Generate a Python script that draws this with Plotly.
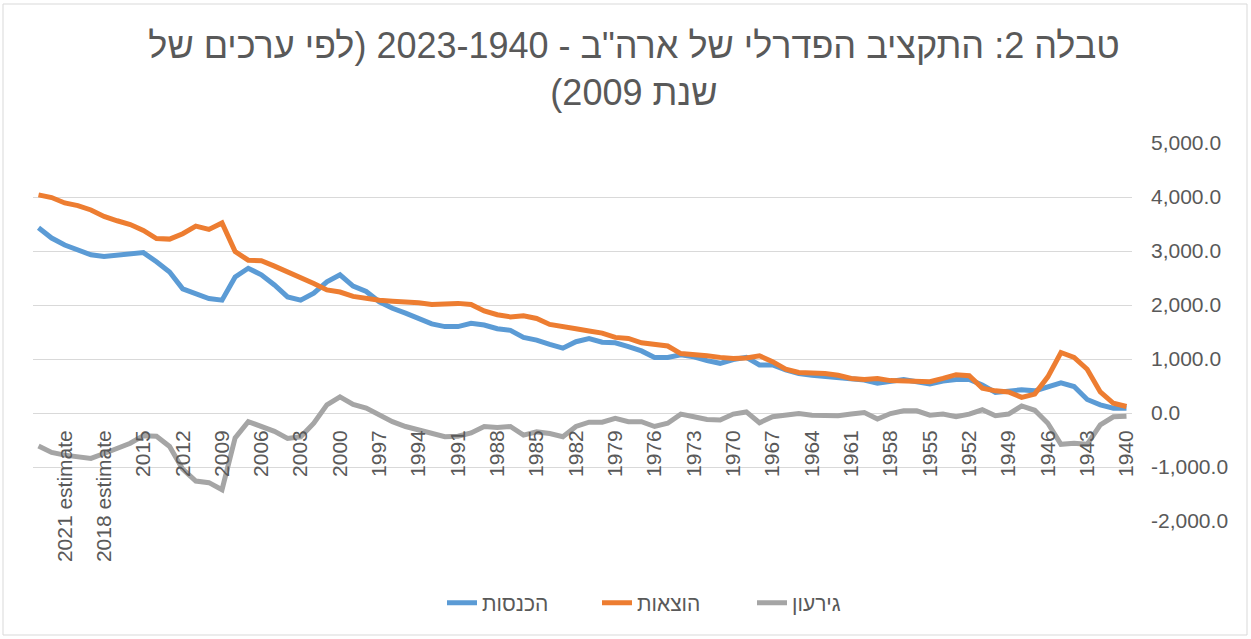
import plotly.graph_objects as go

# Categories in display order (left to right)
categories = [
    "2023 estimate", "2022 estimate", "2021 estimate", "2020 estimate", "2019 estimate", "2018 estimate",
    "2017", "2016", "2015", "2014", "2013", "2012", "2011", "2010", "2009", "2008", "2007", "2006",
    "2005", "2004", "2003", "2002", "2001", "2000", "1999", "1998", "1997", "1996", "1995", "1994",
    "1993", "1992", "1991", "1990", "1989", "1988", "1987", "1986", "1985", "1984", "1983", "1982",
    "1981", "1980", "1979", "1978", "1977", "1976", "1975", "1974", "1973", "1972", "1971", "1970",
    "1969", "1968", "1967", "1966", "1965", "1964", "1963", "1962", "1961", "1960", "1959", "1958",
    "1957", "1956", "1955", "1954", "1953", "1952", "1951", "1950", "1949", "1948", "1947", "1946",
    "1945", "1944", "1943", "1942", "1941", "1940",
]

receipts = [
    3430, 3240, 3110, 3010, 2930, 2900, 2930, 2960, 2970, 2800, 2610, 2300, 2200, 2120, 2090, 2520,
    2680, 2560, 2370, 2150, 2090, 2220, 2430, 2560, 2350, 2250, 2060, 1940, 1850, 1750, 1650, 1600,
    1600, 1660, 1630, 1560, 1530, 1400, 1350, 1270, 1200, 1320, 1380, 1310, 1300, 1230, 1150, 1030,
    1030, 1080, 1040, 970, 920, 990, 1030, 890, 890, 800, 730, 700, 680, 650, 620, 610, 550, 590,
    620, 580, 540, 590, 620, 620, 520, 380, 410, 430, 410, 480, 560, 490, 250, 150, 90, 90,
]

outlays = [
    4040, 3990, 3890, 3840, 3760, 3640, 3560, 3490, 3380, 3230, 3220, 3320, 3460, 3400, 3520, 2990,
    2830, 2820, 2720, 2620, 2520, 2400, 2280, 2240, 2160, 2120, 2090, 2070, 2060, 2040, 2010, 2030,
    2030, 2010, 1890, 1820, 1780, 1800, 1750, 1640, 1610, 1560, 1520, 1480, 1400, 1380, 1300, 1270,
    1240, 1100, 1090, 1060, 1030, 1010, 1020, 1060, 950, 810, 750, 750, 730, 700, 640, 620, 640, 600,
    590, 570, 580, 640, 710, 690, 460, 410, 390, 290, 350, 670, 1120, 1030, 810, 390, 180, 120,
]

deficit = [
    -610, -730, -780, -820, -840, -750, -660, -560, -420, -430, -620, -1040, -1260, -1290, -1420, -460,
    -160, -250, -340, -470, -440, -190, 150, 300, 160, 90, -40, -160, -250, -310, -390, -440,
    -430, -370, -250, -270, -250, -410, -350, -380, -440, -250, -170, -170, -100, -160, -160, -250,
    -190, -20, -70, -120, -130, -20, 20, -180, -70, -30, -10, -40, -40, -50, -20, 10, -110, -10,
    40, 40, -40, -20, -70, -20, 60, -50, -20, 130, 50, -190, -580, -560, -580, -220, -70, -60,
]

y_tick_values = [-2000, -1000, 0, 1000, 2000, 3000, 4000, 5000]
y_tick_labels = ["-2,000.0", "-1,000.0", "0.0", "1,000.0", "2,000.0", "3,000.0", "4,000.0", "5,000.0"]

series_names = ["הכנסות", "הוצאות", "גירעון"]
series_colors = ["#5B9BD5", "#ED7D31", "#A5A5A5"]

title_lines = ['טבלה 2: התקציב הפדרלי של ארה"ב - 2023-1940 (לפי ערכים של', "שנת 2009)"]

RLM = "\u200f"
title_text = "<br>".join(RLM + t + RLM for t in title_lines)

FONT = "Liberation Sans, Arial, sans-serif"
TXT = "#595959"

fig = go.Figure()
for name, vals, col in zip(series_names, [receipts, outlays, deficit], series_colors):
    fig.add_trace(go.Scatter(
        x=categories, y=vals, mode="lines", name=name,
        line=dict(color=col, width=5, shape="linear"),
    ))

W, H = 1251, 639
L, R, T, B = 33, 119, 143, 118
plot_w = W - L - R
plot_h = H - T - B

fig.update_layout(
    width=W, height=H,
    margin=dict(l=L, r=R, t=T, b=B),
    paper_bgcolor="white", plot_bgcolor="white",
    font=dict(family=FONT, color=TXT, size=21),
    title=dict(
        text=title_text, x=634 / W, xanchor="center", xref="container",
        y=1 - 58 / H, yanchor="top", yref="container",
        font=dict(family=FONT, size=36, color=TXT),
    ),
    showlegend=True,
    legend=dict(
        orientation="h", x=(442 - L) / plot_w, xanchor="left",
        y=-(603 - (T + plot_h)) / plot_h, yanchor="middle",
        font=dict(family=FONT, size=21, color=TXT),
        bgcolor="rgba(0,0,0,0)", entrywidth=110, entrywidthmode="pixels",
    ),
    xaxis=dict(
        type="category", categoryorder="array", categoryarray=categories,
        range=[-0.42, len(categories) - 1 + 0.42],
        anchor="free", position=2000 / 7000, automargin=False,
        showgrid=False, showline=False, zeroline=False, ticks="",
        tickmode="array", tickvals=categories[2::3], ticktext=categories[2::3],
        tickangle=-90, tickfont=dict(family=FONT, size=21, color=TXT),
        ticklabelstandoff=12,
    ),
    yaxis=dict(
        side="right", range=[-2000, 5000], automargin=False,
        tickmode="array", tickvals=y_tick_values, ticktext=y_tick_labels,
        showgrid=True, gridcolor="#D9D9D9", gridwidth=1,
        zeroline=True, zerolinecolor="#D9D9D9", zerolinewidth=1,
        showline=False, ticks="", tickfont=dict(family=FONT, size=21, color=TXT),
        ticklabelstandoff=18,
    ),
    shapes=[dict(
        type="rect", xref="paper", yref="paper",
        x0=(3 - L) / plot_w, x1=(1247 - L) / plot_w,
        y0=(T + plot_h - 635) / plot_h, y1=(T + plot_h - 4) / plot_h,
        line=dict(color="#D9D9D9", width=1), fillcolor="rgba(0,0,0,0)", layer="below",
    )],
)

fig.write_html("out.html", config={"displayModeBar": False},
               post_script="document.body.style.margin='0';")
